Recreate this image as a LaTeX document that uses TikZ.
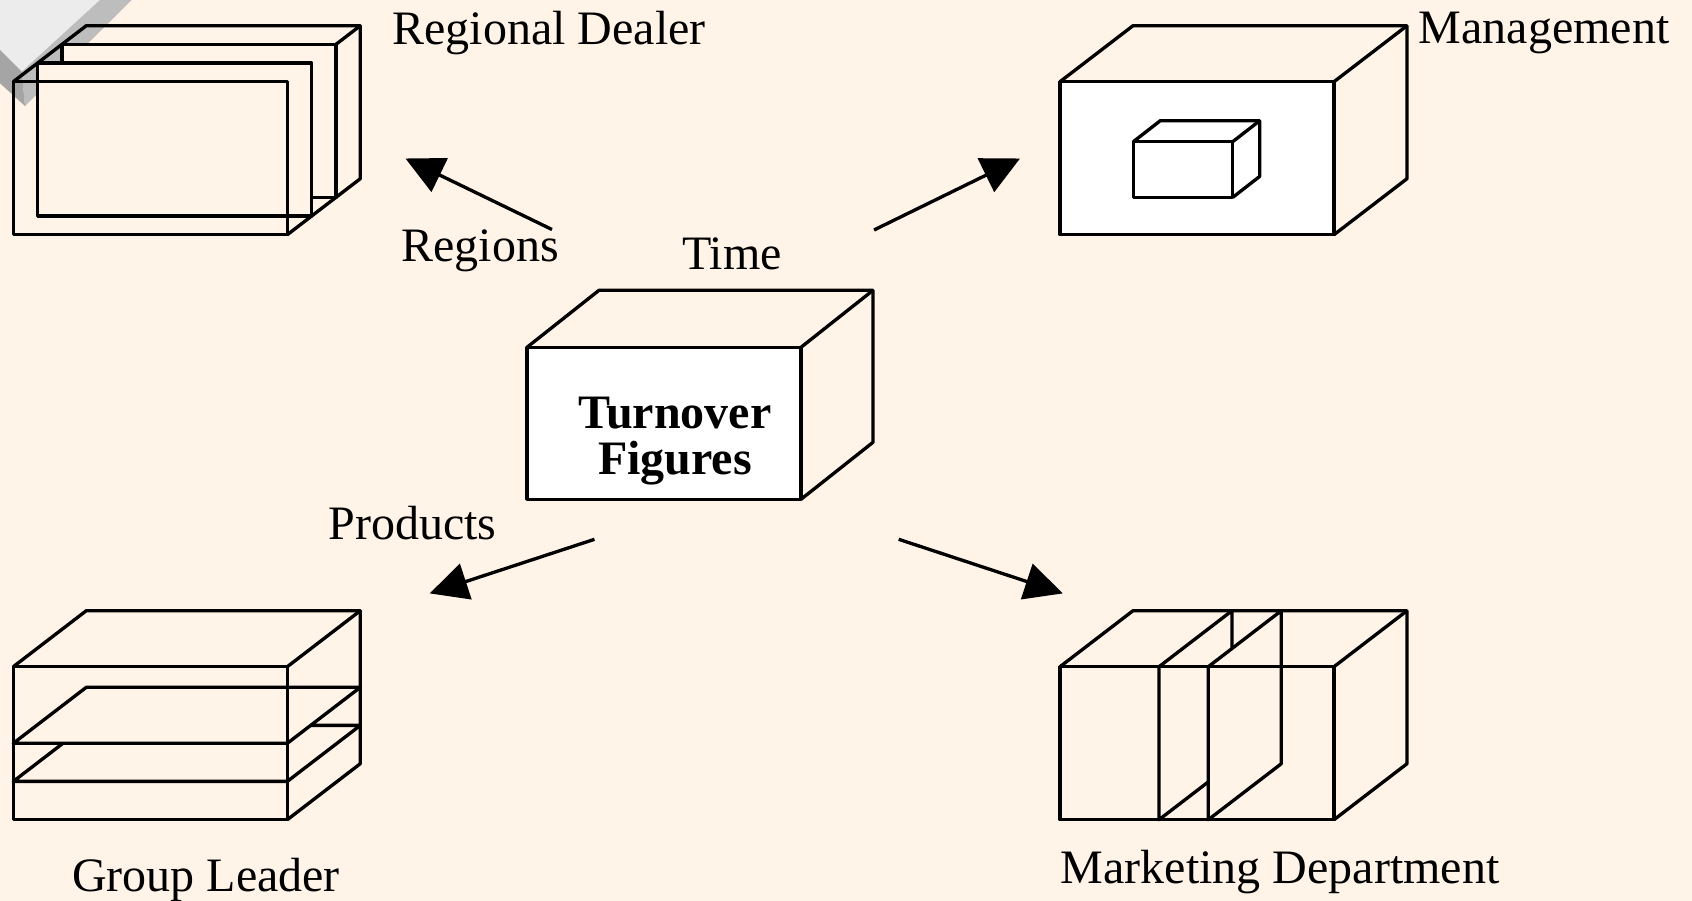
\documentclass[tikz,border=0pt]{standalone}
\usepackage{fontspec}
\setmainfont{Liberation Serif}
\usetikzlibrary{arrows.meta}
\definecolor{paper}{RGB}{255,244,231}
\definecolor{tilelight}{RGB}{236,236,236}
\definecolor{tilemid}{RGB}{189,189,189}
\definecolor{tiledark}{RGB}{165,165,165}
\newcommand{\captionsize}{\fontsize{13.66pt}{13.2pt}\selectfont}
\tikzset{
  boxline/.style={line width=0.95pt, line join=round},
  pane/.style={boxline, fill=paper},
  whiteface/.style={boxline, fill=white},
  caption/.style={font=\captionsize, inner sep=0pt, anchor=base},
  boxtitle/.style={font=\captionsize\bfseries, inner sep=0pt, align=center},
  pointer/.style={-{Triangle[length=3.8mm, width=3.7mm]}, line width=0.95pt}
}

\begin{document}
\begin{tikzpicture}
  \fill[paper] (0,0) rectangle (16.92,-9.01);
  \useasboundingbox (0,0) rectangle (16.92,-9.01);

  % grey tile in the corner
  \fill[tilelight] (0,0) -- (1.00,0) -- (0.217,-0.717) -- (0,-0.50) -- cycle;
  \fill[tilemid] (1.00,0) -- (1.317,0) -- (0.25,-1.06) -- (0.217,-0.717) -- cycle;
  \fill[tiledark] (0,-0.50) -- (0.217,-0.717) -- (0.25,-1.06) -- (0,-0.833) -- cycle;

  % regional dealer, cut in slices
  \begin{scope}[shift={(0.133,-0.817)}]
    \draw[boxline] (0,0) -- (0.73,0.56) -- (3.47,0.56) -- (3.47,-0.97) -- (2.74,-1.53);
    \draw[boxline] (2.74,0) -- (3.47,0.56);
    \draw[pane] (0.487,-1.157) rectangle (3.227,0.373);
    \draw[pane] (0.243,-1.343) rectangle (2.983,0.187);
    \draw[boxline] (0,0) rectangle (2.74,-1.53);
  \end{scope}

  % management, small cube inside
  \begin{scope}[shift={(10.60,-0.817)}]
    \draw[whiteface] (0,0) rectangle (2.74,-1.53);
    \draw[boxline] (0,0) -- (0.73,0.56) -- (3.47,0.56) -- (3.47,-0.97) -- (2.74,-1.53);
    \draw[boxline] (2.74,0) -- (3.47,0.56);
    \draw[whiteface] (0.733,-0.60) rectangle (1.727,-1.157);
    \draw[boxline] (0.733,-0.60) -- ++(0.27,0.21) -- ++(0.994,0) -- ++(0,-0.557) -- (1.727,-1.157);
    \draw[boxline] (1.727,-0.60) -- ++(0.27,0.21);
  \end{scope}

  % turnover figures
  \begin{scope}[shift={(5.27,-3.473)}]
    \draw[whiteface] (0,0) rectangle (2.74,-1.52);
    \draw[boxline] (0,0) -- (0.72,0.57) -- (3.46,0.57) -- (3.46,-0.95) -- (2.74,-1.52);
    \draw[boxline] (2.74,0) -- (3.46,0.57);
  \end{scope}
  \node[boxtitle] (turnover) at (6.75,-4.41) {Turnover\\Figures};

  % group leader, horizontal layers
  \begin{scope}[shift={(0.133,-6.667)}]
    \draw[boxline] (0,0) -- (0.73,0.56) -- (3.47,0.56) -- (3.47,-0.97) -- (2.74,-1.53);
    \draw[boxline] (2.74,0) -- (3.47,0.56);
    \draw[pane] (0,-1.147) -- (2.74,-1.147) -- (3.47,-0.587) -- (0.73,-0.587) -- cycle;
    \draw[pane] (0,-0.766) -- (2.74,-0.766) -- (3.47,-0.206) -- (0.73,-0.206) -- cycle;
    \draw[boxline] (0,0) rectangle (2.74,-1.53);
  \end{scope}

  % marketing department, vertical layers
  \begin{scope}[shift={(10.60,-6.667)}]
    \draw[boxline] (0,0) -- (0.73,0.56) -- (3.47,0.56) -- (3.47,-0.97) -- (2.74,-1.53);
    \draw[boxline] (2.74,0) -- (3.47,0.56);
    \draw[pane] (0.99,-1.53) -- (0.99,0) -- (1.72,0.56) -- (1.72,-0.97) -- cycle;
    \draw[pane] (1.483,-1.53) -- (1.483,0) -- (2.213,0.56) -- (2.213,-0.97) -- cycle;
    \draw[boxline] (0,0) rectangle (2.74,-1.53);
  \end{scope}

  \coordinate (regionsfrom) at (5.52,-2.295);
  \coordinate (regionsto) at (4.055,-1.585);
  \coordinate (timefrom) at (8.74,-2.30);
  \coordinate (timeto) at (10.20,-1.585);
  \coordinate (productsfrom) at (5.945,-5.393);
  \coordinate (productsto) at (4.297,-5.934);
  \coordinate (marketingfrom) at (8.987,-5.393);
  \coordinate (marketingto) at (10.628,-5.934);
  \draw[pointer] (regionsfrom) -- (regionsto);
  \draw[pointer] (timefrom) -- (timeto);
  \draw[pointer] (productsfrom) -- (productsto);
  \draw[pointer] (marketingfrom) -- (marketingto);

  \node[caption] (dealerlabel) at (5.49,-0.447) {Regional Dealer};
  \node[caption] (managementlabel) at (15.44,-0.433) {Management};
  \node[caption] (regionslabel) at (4.80,-2.62) {Regions};
  \node[caption] (timelabel) at (7.32,-2.69) {Time};
  \node[caption] (productslabel) at (4.125,-5.393) {Products};
  \node[caption] (grouplabel) at (2.06,-8.917) {Group Leader};
  \node[caption] (marketinglabel) at (12.80,-8.833) {Marketing Department};
\end{tikzpicture}
\end{document}
